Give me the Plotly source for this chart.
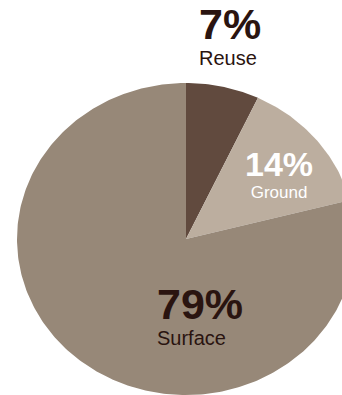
import numpy as np
import plotly.graph_objects as go

# Water sources, share of total (%)
sources = ["Reuse", "Ground", "Surface"]
shares = [7, 14, 79]
colors = ["#614a3e", "#bcae9f", "#978878"]
label_colors = ["#2a1410", "#ffffff", "#2a1410"]

W, H = 342, 395
# pie geometry in pixels (slightly wider than tall)
CX, CY, RX, RY = 186, 239, 169, 156

fig = go.Figure()

total = sum(shares)
start = 0.0
for name, val, col in zip(sources, shares, colors):
    frac0 = start / total
    frac1 = (start + val) / total
    # clockwise from 12 o'clock
    t = np.linspace(frac0, frac1, max(int(val * 4), 8))
    ang = np.pi / 2 - 2 * np.pi * t
    xs = np.concatenate([[0.0], np.cos(ang), [0.0]])
    ys = np.concatenate([[0.0], np.sin(ang), [0.0]])
    fig.add_trace(go.Scatter(
        x=xs, y=ys, mode="lines", fill="toself", fillcolor=col,
        line=dict(width=0, color=col), name=name, hoverinfo="name",
        showlegend=False,
    ))
    start += val

# label blocks: anchor x, centre y (pixels), horizontal anchor/alignment
label_pos = {
    "Reuse": (197, 34, "left"),
    "Ground": (279, 173, "center"),
    "Surface": (155, 314, "left"),
}
pct_sizes = {"Reuse": 43, "Ground": 34, "Surface": 43}
name_sizes = {"Reuse": 20, "Ground": 17, "Surface": 20}

for name, val, lcol in zip(sources, shares, label_colors):
    px, py, anchor = label_pos[name]
    fig.add_annotation(
        x=px / W, y=1 - py / H, xref="paper", yref="paper",
        text=(f"<span style='font-size:{pct_sizes[name]}px'><b>{val}%</b></span>"
              f"<br>{name}"),
        showarrow=False, align=anchor,
        xanchor=anchor, yanchor="middle",
        font=dict(family="Liberation Sans, Arial, sans-serif",
                  size=name_sizes[name], color=lcol),
    )

fig.update_layout(
    width=W, height=H,
    margin=dict(l=0, r=0, t=0, b=0),
    paper_bgcolor="white", plot_bgcolor="white",
    xaxis=dict(range=[(0 - CX) / RX, (W - CX) / RX], visible=False,
               fixedrange=True),
    yaxis=dict(range=[(CY - H) / RY, CY / RY], visible=False,
               fixedrange=True),
    showlegend=False,
)

fig.write_html("out.html", config={"displayModeBar": False})
